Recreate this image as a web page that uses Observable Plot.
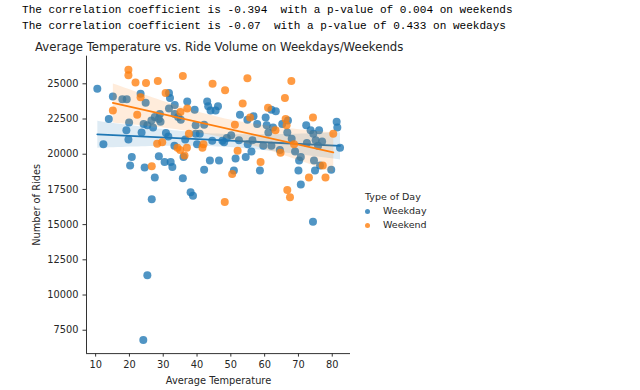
<!DOCTYPE html>
<html><head><meta charset="utf-8">
<script src="https://cdn.jsdelivr.net/npm/d3@7"></script>
<script src="https://cdn.jsdelivr.net/npm/@observablehq/plot@0.6"></script>
<style>
body{margin:0;background:#fff;width:640px;height:390px;overflow:hidden;position:relative;font-family:"DejaVu Sans",sans-serif}
#header{position:relative;height:54px}
.mono{position:absolute;left:22px;font-family:"Liberation Mono","DejaVu Sans Mono",monospace;font-size:11.05px;line-height:14px;color:#000;white-space:pre}
#title{position:absolute;left:35px;top:40px;font-size:11.7px;line-height:14px;color:#262626;white-space:pre}
#legend{position:absolute;left:365px;top:190px;font-size:9.5px;color:#262626;line-height:14px}
#legend .row{position:relative;padding-left:18px}
#legend .dot{position:absolute;left:0;top:4.5px;width:5px;height:5px;border-radius:50%}
#chart svg text{font-family:"DejaVu Sans",sans-serif}
</style>
</head><body>
<div id="header">
  <div class="mono" style="top:3px">The correlation coefficient is -0.394  with a p-value of 0.004 on weekends</div>
  <div class="mono" style="top:19px">The correlation coefficient is -0.07  with a p-value of 0.433 on weekdays</div>
  <div id="title">Average Temperature vs. Ride Volume on Weekdays/Weekends</div>
</div>
<div id="chart"></div>
<div id="legend"></div>
<script>
const types = ["Weekday", "Weekend"];
const colors = ["#1f77b4", "#ff7f0e"];
const xTicks = [10, 20, 30, 40, 50, 60, 70, 80];
const yTicks = [7500, 10000, 12500, 15000, 17500, 20000, 22500, 25000];
const xDomain = [7.3, 85.4];
const yDomain = [5840, 26960];

const weekdayTemp = [10.5,12.3,13.9,15.1,17.9,19.2,19.9,19.1,19.7,20.7,20.2,23.3,24.8,23.6,24.5,25.3,26.5,27.5,28.7,29.2,29.0,27.5,26.6,28.7,30.4,30.8,31.7,32.0,33.4,31.7,33.4,34.4,35.2,33.3,32.2,32.7,35.8,36.0,37.1,39.3,39.6,42.1,40.8,39.6,38.1,38.8,42.1,43.8,46.5,43.0,43.3,44.0,46.2,45.5,44.5,47.5,48.8,50.1,51.4,50.9,52.7,52.4,54.4,54.9,56.1,56.7,56.4,57.8,58.6,59.6,60.3,60.6,61.1,62.0,63.3,62.5,64.5,65.2,66.9,66.7,70.2,70.7,70.0,70.7,72.3,73.6,74.4,75.1,75.8,76.1,74.6,74.9,76.4,79.7,81.3,81.5,82.3,74.3,25.3,24.1,24.2,27.0,31.5,36.5,40.0,48.0,55.0,62.0,68.0,72.5,77.0,69.0];
const weekdayRides = [24650,20700,22500,24100,23900,23900,22250,21700,21050,19800,19200,24300,23650,21550,19050,22050,22400,22650,22500,22300,22850,18350,16800,19850,19450,21500,24350,24000,23500,23250,22850,22650,22450,20600,19450,19100,18300,19800,23750,23150,22050,22100,21450,21450,17300,17050,18900,19550,19550,23750,23400,23100,23400,23100,20950,20950,21150,21350,19700,18850,22800,21000,19800,22450,20200,22700,21000,22150,18850,20600,22600,22050,21550,23150,23050,21900,20300,22150,22400,21550,19550,19800,18850,17850,22050,21700,21450,21000,20600,21700,19550,18850,19200,18900,22300,21900,20450,15200,11400,6800,22150,21900,21250,21050,20700,20850,20700,20600,21100,20800,20900,20200];

const weekendTemp = [19.7,19.7,21.8,24.9,28.4,35.8,44.6,48.3,54.9,67.9,66.0,53.5,15.1,23.3,30.7,22.3,35.1,37.1,28.2,29.7,34.2,35.0,37.0,36.3,37.6,41.6,41.9,26.6,50.4,48.2,51.2,55.7,58.8,61.0,63.2,64.7,66.2,66.5,66.7,67.5,68.7,73.1,74.3,77.2,78.0,80.3,52.0];
const weekendRides = [26000,25600,25100,25050,25200,25550,25000,24550,25400,25200,24000,23600,23100,24050,24350,22800,23000,23250,20750,20850,20450,20300,20450,19900,21450,20450,20700,19150,18600,16600,22100,22600,19450,23300,21700,20100,22500,22050,17450,16950,20700,18350,22600,19200,18350,21450,20250];

const weekday = weekdayTemp.map((t, i) => ({temp: t, rides: weekdayRides[i], type: types[0]}));
const weekend = weekendTemp.map((t, i) => ({temp: t, rides: weekendRides[i], type: types[1]}));

const chart = Plot.plot({
  width: 640,
  height: 336,
  marginLeft: 86,
  marginRight: 290,
  marginTop: 1.7,
  marginBottom: 36.9,
  style: {fontSize: "9.8px", fontFamily: "DejaVu Sans, sans-serif", color: "#262626", background: "white"},
  x: {domain: xDomain},
  y: {domain: yDomain},
  color: {domain: types, range: colors},
  marks: [
    Plot.axisX({ticks: xTicks, tickSize: 3.5, tickPadding: 3.5, label: "Average Temperature", labelAnchor: "center", labelArrow: "none", labelOffset: 30, stroke: "#333"}),
    Plot.axisY({ticks: yTicks, tickSize: 3.5, tickPadding: 4.5, tickFormat: d => String(d), label: "Number of Rides", labelAnchor: "center", labelArrow: "none", labelOffset: 53, stroke: "#333"}),
    Plot.ruleX([xDomain[0]], {stroke: "#333", strokeWidth: 1}),
    Plot.ruleY([yDomain[0]], {stroke: "#333", strokeWidth: 1}),
    Plot.dot(weekday, {x: "temp", y: "rides", r: 4, fill: "type", fillOpacity: 0.78}),
    Plot.linearRegressionY(weekday, {x: "temp", y: "rides", stroke: "type", fill: "type", fillOpacity: 0.15, strokeWidth: 1.8, ci: 0.95}),
    Plot.dot(weekend, {x: "temp", y: "rides", r: 4, fill: "type", fillOpacity: 0.78}),
    Plot.linearRegressionY(weekend, {x: "temp", y: "rides", stroke: "type", fill: "type", fillOpacity: 0.15, strokeWidth: 1.8, ci: 0.95})
  ]
});
document.getElementById("chart").appendChild(chart);

const legend = document.getElementById("legend");
legend.innerHTML = `<div>Type of Day</div>` + types.map((t, i) =>
  `<div class="row"><span class="dot" style="background:${colors[i]};opacity:0.8"></span>${t}</div>`).join("");
</script>
</body></html>
